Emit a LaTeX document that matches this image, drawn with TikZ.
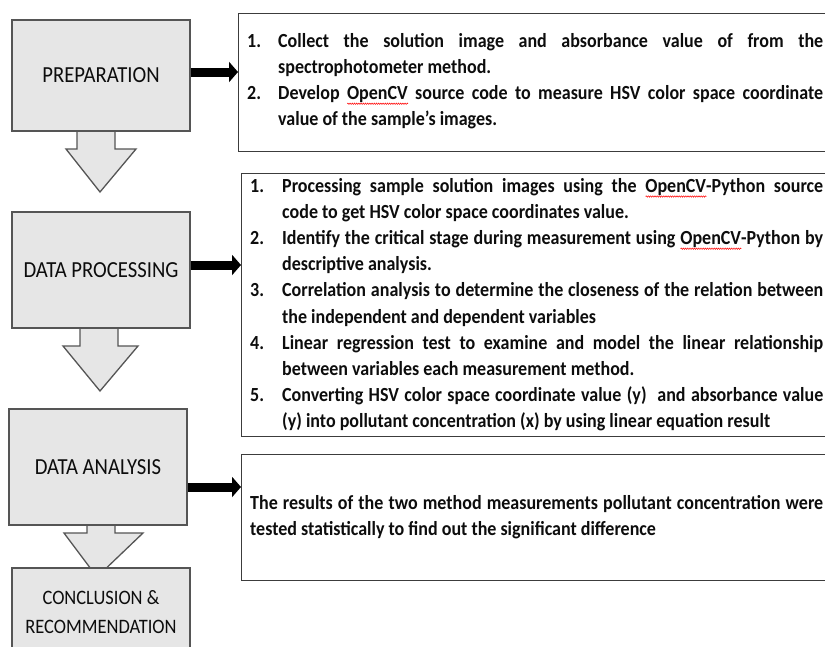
\documentclass[tikz,border=0pt]{standalone}
\usepackage{fontspec}
\setmainfont{Carlito}[FakeStretch=0.9]
\usetikzlibrary{arrows.meta,calc,decorations.pathmorphing}
\definecolor{boxfill}{HTML}{E6E6E6}
\definecolor{boxline}{HTML}{555555}
\definecolor{frameline}{HTML}{3C3C3C}
\definecolor{inktext}{HTML}{0D0D0D}
\newsavebox\spellbox
\newlength\spellwd
\newcommand\spellwave[1]{\sbox\spellbox{#1}\setlength\spellwd{\wd\spellbox}\makebox[0pt][l]{\tikz[baseline=0pt]\draw[red,line width=0.5pt,decorate,decoration={zigzag,amplitude=0.7pt,segment length=2.2pt}] (0pt,-4pt) -- (\spellwd,-4pt);}\usebox\spellbox}
\newcommand\listitem[2]{\par\noindent\hangindent=#1\hangafter=1\makebox[#1][l]{#2}}
\newcommand\listsetup{\parindent=0pt\spaceskip=\fontdimen2\font plus 1fil minus 0.3\fontdimen2\font\xspaceskip=\spaceskip\parfillskip=0pt plus 1fill\relax}
\tikzset{
  stage/.style={draw=boxline, fill=boxfill, line width=1.3pt, minimum width=178pt, inner sep=0pt,
    font=\fontsize{23}{29}\selectfont, align=center, text=inktext},
  textframe/.style={draw=frameline, line width=1.3pt, fill=white, inner sep=0pt, anchor=north west, minimum width=600pt},
  bigarrow/.style={line width=9pt, -{Triangle[length=9pt,width=20pt]}, black},
  blockarrow/.style={draw=boxline, fill=boxfill, line width=1.3pt, line join=miter},
  listtext/.style={anchor=base west, inner sep=0pt, font=\bfseries\fontsize{20}{26.1}\selectfont, text=inktext}
}
\begin{document}
\begin{tikzpicture}[x=1pt,y=-1pt]
\useasboundingbox (0,0) rectangle (825,646);
\clip (0,0) rectangle (825,646);
\fill[white] (0,0) rectangle (825,646);
% block arrows between stages
\draw[blockarrow] (77,131) -- (77,149) -- (66,149) -- (100,192) -- (136,149) -- (115,149) -- (115,131) -- cycle;
\draw[blockarrow] (80,328) -- (80,346) -- (63,346) -- (100,391) -- (138,346) -- (118,346) -- (118,328) -- cycle;
\draw[blockarrow] (87,525) -- (87,533) -- (64,533) -- (97,577) -- (143,533) -- (115,533) -- (115,525) -- cycle;
% stages
\node[stage, minimum height=111pt] (prep) at (101,75.5) {PREPARATION};
\node[stage, minimum height=116pt] (proc) at (101,270) {DATA PROCESSING};
\node[stage, minimum height=116pt] (anal) at (98,467) {DATA ANALYSIS};
\node[stage, minimum height=89pt, font=\fontsize{20.5}{29}\selectfont] (concl) at (101,612.5) {CONCLUSION \&\\RECOMMENDATION};
% text frames
\node[textframe, minimum height=138pt] (b1) at (238,13) {};
\node[textframe, minimum height=263pt] (b2) at (241,173) {};
\node[textframe, minimum height=126pt] (b3) at (241,454) {};
% texts
\node[listtext] (t1) at (247,47.5) {\begin{minipage}[t]{576pt}\listsetup
\listitem{31pt}{1.}Collect the solution image and absorbance value of from the\linebreak spectrophotometer method.
\listitem{31pt}{2.}Develop \spellwave{OpenCV} source code to measure HSV color space coordinate\linebreak value of the sample’s images.\par
\end{minipage}};
\node[listtext] (t2) at (250,192.5) {\begin{minipage}[t]{573pt}\listsetup
\listitem{32pt}{1.}Processing sample solution images using the \mbox{\spellwave{OpenCV}-Python} source\linebreak code to get HSV color space coordinates value.
\listitem{32pt}{2.}Identify the critical stage during measurement using \mbox{\spellwave{OpenCV}-Python} by\linebreak descriptive analysis.
\listitem{32pt}{3.}Correlation analysis to determine the closeness of the relation between\linebreak the independent and dependent variables
\listitem{32pt}{4.}Linear regression test to examine and model the linear relationship\linebreak between variables each measurement method.
\listitem{32pt}{5.}Converting HSV color space coordinate value (y)\ \ and absorbance value\linebreak (y) into pollutant concentration (x) by using linear equation result\par
\end{minipage}};
\node[listtext] (t3) at (250,509.5) {\begin{minipage}[t]{573pt}\listsetup
\noindent The results of the two method measurements pollutant concentration were\linebreak tested statistically to find out the significant difference\par
\end{minipage}};
% connectors
\coordinate (a1) at ($(prep.east)+(0,-3.5)$);
\coordinate (a2) at ($(proc.east)+(0,-5)$);
\coordinate (a3) at ($(anal.east)+(0,20)$);
\draw[bigarrow] (a1) -- (a1 -| b1.west);
\draw[bigarrow] (a2) -- (a2 -| b2.west);
\draw[bigarrow] (a3) -- (a3 -| b3.west);
\end{tikzpicture}
\end{document}
